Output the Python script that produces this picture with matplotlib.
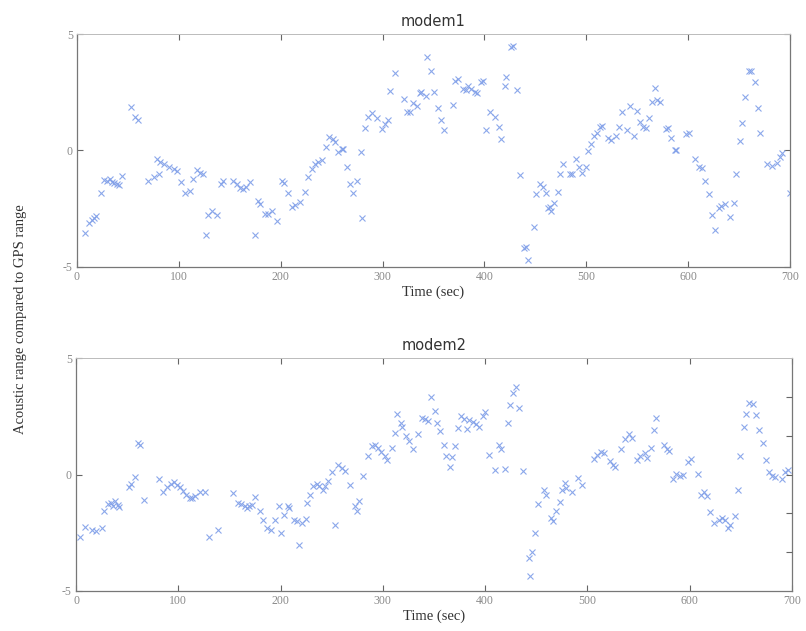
import matplotlib
matplotlib.use("Agg")
import matplotlib.pyplot as plt

# Range difference (acoustic - GPS) over time for each modem
modem1_t = [7.9, 12, 14.4, 17, 18.6, 23.2, 26.8, 29.7, 32.4, 34, 36.3, 39, 40.9, 44.5,
            52.7, 56.9, 59.5, 69.4, 75.9, 78.2, 80.8, 81.4, 85.7, 90.6, 95.2, 97.8,
            101.8, 106, 110.9, 114.1, 117.5, 120.7, 123.3, 126.3, 128.9, 132.8, 137.1,
            141, 143.6, 153.4, 156.7, 160, 163.2, 165.8, 169.8, 174.7, 177.9, 179.6,
            184.5, 187.7, 191, 196.6, 200.9, 203.1, 206.8, 210.7, 213.9, 218.8, 223.7,
            227, 230.3, 233.6, 236.8, 240.1, 244.3, 247.6, 250.9, 253.2, 256.4, 259.8,
            261.4, 265.3, 267.9, 271.2, 274.5, 278.7, 280, 282.9, 285.9, 289.2, 294.7,
            299, 302.3, 305.5, 307.8, 312, 320.9, 324.1, 326.8, 330, 333.4, 336.6,
            338.2, 342.5, 344.1, 347.4, 350.6, 354, 357.2, 360.2, 368.7, 371, 374.2,
            379.1, 381.7, 384, 387.3, 390.6, 392.8, 396.5, 398.7, 402, 405.9, 410.2,
            414.4, 416.7, 419.9, 421.6, 426.5, 428.1, 432.1, 435.4, 438.7, 441.3, 442.9,
            448.5, 451.1, 454.4, 457.6, 460.9, 462.5, 464.2, 465.8, 468.1, 472.3, 474.7,
            477.3, 483.8, 486.5, 489.7, 493, 496.3, 499.5, 501.8, 505.1, 507.4, 510.6,
            513.3, 515.5, 521.4, 524.7, 528.9, 532.2, 535.5, 540, 542.7, 546.9, 549.9,
            552.5, 555.8, 558.4, 561.6, 564.9, 567.5, 569.5, 572.2, 578.1, 580.3, 583.6,
            586.9, 588.5, 597.6, 600.6, 606.5, 610.7, 613.7, 617, 620.2, 623.5, 626.8,
            630, 632.7, 635.9, 640.8, 644.8, 647.4, 650.6, 652.9, 656.3, 659.8, 662.1,
            665.4, 668.6, 671, 677.4, 682.7, 687.2, 689.9, 692.5, 699.7]
modem1_d = [-3.53, -3.1, -3.0, -2.89, -2.83, -1.83, -1.26, -1.29, -1.22, -1.36, -1.40,
            -1.46, -1.47, -1.1, 1.86, 1.43, 1.33, -1.33, -1.12, -0.36, -1.0, -0.5, -0.6,
            -0.71, -0.79, -0.86, -1.36, -1.83, -1.72, -1.22, -0.82, -0.97, -1.0, -3.65,
            -2.79, -2.58, -2.75, -1.43, -1.29, -1.29, -1.46, -1.6, -1.64, -1.57, -1.36,
            -3.65, -2.15, -2.29, -2.72, -2.72, -2.6, -3.03, -1.29, -1.39, -1.82, -2.43,
            -2.36, -2.22, -1.79, -1.15, -0.79, -0.57, -0.5, -0.4, 0.14, 0.6, 0.5, 0.36,
            -0.07, 0.07, 0.07, -0.69, -1.43, -1.83, -1.29, -0.07, -2.9, 0.97, 1.43, 1.6,
            1.4, 0.93, 1.12, 1.32, 2.55, 3.32, 2.22, 1.65, 1.65, 2.03, 1.89, 2.46, 2.5,
            2.32, 4.03, 3.4, 2.53, 1.83, 1.32, 0.86, 1.97, 3.0, 3.08, 2.65, 2.58, 2.79,
            2.65, 2.5, 2.46, 2.96, 3.0, 0.89, 1.65, 1.43, 1.0, 0.49, 2.79, 3.15, 4.46,
            4.5, 2.58, -1.07, -4.19, -4.15, -4.72, -3.29, -1.86, -1.46, -1.57, -1.83,
            -2.48, -2.43, -2.58, -2.26, -1.79, -1.03, -0.57, -1.03, -1.03, -0.36, -0.72,
            -0.97, -0.69, -0.03, 0.29, 0.64, 0.74, 1.0, 1.07, 0.54, 0.43, 0.64, 1.03,
            1.65, 0.86, 1.89, 0.64, 1.69, 1.21, 1.03, 0.97, 1.4, 2.07, 2.69, 2.18, 2.1,
            0.93, 0.97, 0.55, 0.0, 0.0, 0.69, 0.74, -0.36, -0.69, -0.74, -1.33, -1.86,
            -2.75, -3.43, -2.46, -2.4, -2.29, -2.86, -2.26, -1.03, 0.4, 1.19, 2.29, 3.4,
            3.4, 2.93, 1.83, 0.74, -0.6, -0.67, -0.55, -0.29, -0.12, -1.83]

modem2_t = [4.2, 8.8, 15.3, 19.5, 25, 27.6, 31.5, 34.1, 35.7, 38, 40.6, 42.2, 51.9,
            54.2, 57.4, 60.7, 62.6, 66.5, 81.1, 85.3, 88.6, 93.1, 95.7, 98.4, 101.6,
            104.5, 107.8, 111, 113, 116.2, 121.1, 126.6, 130.5, 138.9, 153.2, 158.4,
            161.6, 164.9, 167.2, 169.4, 172, 175.2, 180.1, 182.7, 186.6, 190.5, 194.7,
            198, 200.3, 203.8, 207.7, 208.7, 213.5, 216.5, 218.4, 220.7, 224.6, 226.2,
            228.5, 231.7, 235.3, 237.9, 241.8, 243.5, 246.7, 250, 253.2, 256.4, 259.7,
            262.9, 267.8, 272.6, 274.9, 276.9, 280.8, 285.7, 289, 292.2, 295.5, 298.1,
            302, 304.2, 308.5, 311.7, 314, 317.3, 319.2, 323.1, 325.7, 329.6, 334.5,
            337.8, 341, 344.2, 347.5, 350.6, 352.8, 356.1, 359.3, 362, 365.2, 367.8,
            370.1, 373.3, 376.6, 379.8, 382.4, 384.6, 387.8, 391.1, 394.4, 397.6, 399.9,
            404.1, 409.9, 413.1, 415.5, 419.3, 422, 424.3, 426.9, 430.2, 433.4, 437.3,
            443.1, 443.7, 445.7, 448.9, 452.1, 457.6, 459.9, 464.2, 466.4, 469.6, 472.9,
            475.5, 478.1, 479.4, 485.2, 491.1, 494.3, 506.3, 509.5, 512.8, 516, 521.6,
            524.8, 527.4, 533.3, 536.5, 540.4, 543.6, 548.5, 551.8, 556, 558.2, 562.5,
            565.4, 567, 574.5, 577.7, 580, 583.2, 586.4, 590.7, 593, 598.2, 601.5,
            607.9, 610.9, 614.2, 616.8, 620.1, 623.4, 628.3, 631.5, 634.8, 637.4, 639.7,
            643.9, 647.2, 649.5, 652.7, 655, 658.3, 661.5, 664.8, 668.1, 671.4, 674.6,
            677.9, 680.5, 683.8, 690.2, 693.5, 696.1]
modem2_d = [-2.66, -2.27, -2.4, -2.41, -2.3, -1.58, -1.25, -1.22, -1.37, -1.15, -1.32,
            -1.41, -0.53, -0.39, -0.1, 1.37, 1.29, -1.08, -0.19, -0.75, -0.55, -0.39,
            -0.33, -0.43, -0.53, -0.72, -0.86, -1.0, -1.0, -0.91, -0.76, -0.74, -2.66,
            -2.4, -0.79, -1.22, -1.25, -1.34, -1.44, -1.37, -1.29, -0.96, -1.58, -1.94,
            -2.3, -2.4, -1.94, -1.37, -2.49, -1.72, -1.34, -1.44, -1.94, -2.01, -3.02,
            -2.1, -1.91, -1.24, -0.86, -0.5, -0.39, -0.5, -0.66, -0.5, -0.29, 0.1, -2.16,
            0.39, 0.29, 0.14, -0.46, -1.37, -1.55, -1.15, -0.04, 0.79, 1.22, 1.25, 1.15,
            0.96, 0.79, 0.62, 1.15, 1.8, 2.59, 2.23, 2.06, 1.65, 1.44, 1.11, 1.73, 2.44,
            2.4, 2.29, 3.35, 2.73, 2.23, 1.87, 1.29, 0.79, 0.32, 0.75, 1.22, 2.01, 2.51,
            2.4, 1.94, 2.34, 2.25, 2.16, 2.06, 2.51, 2.69, 0.82, 0.19, 1.25, 1.11, 0.22,
            2.23, 2.97, 3.49, 3.74, 2.84, 0.14, -3.59, -4.34, -3.31, -2.49, -1.25, -0.65,
            -0.86, -1.87, -2.01, -1.58, -1.19, -0.65, -0.36, -0.57, -0.76, -0.14, -0.43,
            0.65, 0.86, 0.96, 0.93, 0.57, 0.43, 0.33, 1.08, 1.54, 1.73, 1.58, 0.62, 0.79,
            0.91, 0.73, 1.15, 1.91, 2.44, 1.25, 1.08, 1.01, -0.19, 0.04, -0.04, 0.0,
            0.53, 0.67, 0.04, -0.86, -0.76, -0.9, -1.62, -2.08, -1.94, -1.87, -1.94,
            -2.3, -2.16, -1.8, -0.67, 0.79, 2.06, 2.59, 3.09, 3.04, 2.54, 1.91, 1.37,
            0.62, 0.1, -0.04, -0.1, -0.19, 0.1, 0.19]

titles = ["modem1", "modem2"]
x_ticks = [0, 100, 200, 300, 400, 500, 600, 700]
y_ticks = [-5, 0, 5]
y_tick_labels = ["-5", "0", "5"]
x_label = "Time (sec)"
y_label = "Acoustic range compared to GPS range"

SERIF = ["Liberation Serif", "DejaVu Serif"]
MARK = "#7f9ee8"
TICK_TXT = "#8a8a8a"

fig = plt.figure(figsize=(8.06, 6.31), dpi=100)
ax1 = fig.add_axes([0.0955, 0.577, 0.8846, 0.369])
ax2 = fig.add_axes([0.0943, 0.0634, 0.8883, 0.369])

for ax, t, d, title in [(ax1, modem1_t, modem1_d, titles[0]),
                        (ax2, modem2_t, modem2_d, titles[1])]:
    ax.plot(t, d, linestyle="none", marker="x", color=MARK,
            markersize=5, markeredgewidth=0.8, alpha=0.9)
    ax.set_xlim(0, 700)
    ax.set_ylim(-5, 5)
    ax.set_xticks(x_ticks)
    ax.set_yticks(y_ticks, y_tick_labels)
    ax.tick_params(direction="in", length=4, width=0.8, top=True,
                   labelsize=8.5, colors="#666666", labelcolor=TICK_TXT, pad=3)
    for lab in ax.get_xticklabels() + ax.get_yticklabels():
        lab.set_family(SERIF)
    for side, sp in ax.spines.items():
        sp.set_color("#777777")
        sp.set_linewidth(0.9)
    ax.spines["top"].set_color("#bbbbbb")
    ax.spines["top"].set_linewidth(0.7)
    ax.set_title(title, fontsize=10.5, color="#333333", pad=6,
                 family=["DejaVu Sans"])
    ax.set_xlabel(x_label, fontsize=10.5, family=SERIF, color="#333333", labelpad=2)

# right-side frame ticks
ax1.tick_params(right=True)
ax2.spines["top"].set_linestyle((0, (1, 1)))
ax2r = ax2.twinx()
ax2r.set_ylim(-5, 5)
ax2r.set_yticks([-3.33, -1.67, 0, 1.67, 3.33])
ax2r.tick_params(direction="in", length=4, width=0.8, colors="#666666",
                 labelright=False)
for sp in ax2r.spines.values():
    sp.set_visible(False)

fig.text(0.026, 0.495, y_label, rotation=90, va="center", ha="center",
         fontsize=10.5, family=SERIF, color="#333333")

fig.savefig("out.png", dpi=100, facecolor="white")
